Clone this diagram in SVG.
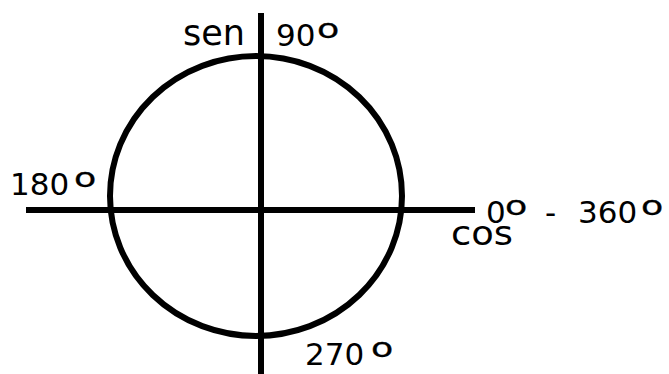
<svg xmlns="http://www.w3.org/2000/svg" width="669" height="374" viewBox="0 0 669 374">
<style>
.ln{stroke:#000;stroke-width:6;fill:none}
.t{font-family:"DejaVu Sans",Verdana,sans-serif;font-size:31px;fill:#000}
.deg{font-family:"DejaVu Sans",Verdana,sans-serif;font-size:26px;fill:#000;stroke:#000;stroke-width:0.3}
</style>
<rect width="669" height="374" fill="#fff"/>
<g id="circle"><ellipse class="ln" cx="256" cy="196" rx="146" ry="140" stroke-width="5"/></g>
<g id="axes">
<line class="ln" x1="26" y1="210" x2="475" y2="210"/>
<line class="ln" x1="261" y1="13" x2="261" y2="374"/>
</g>
<g id="label-sen"><text class="t" x="183" y="45" style="font-size:36px" textLength="62" lengthAdjust="spacingAndGlyphs">sen</text></g>
<g id="label-90">
<text class="t" x="276" y="46">90</text>
<text class="deg" transform="translate(317,38) scale(1.4,1.05)">o</text>
</g>
<g id="label-180">
<text class="t" x="10" y="195">180</text>
<text class="deg" transform="translate(74,187) scale(1.4,1.05)">o</text>
</g>
<g id="label-0-360">
<text class="t" x="486" y="223">0</text>
<text class="deg" transform="translate(505,215) scale(1.4,1.05)">o</text>
<text class="t" x="545" y="223">-</text>
<text class="t" x="578" y="223">360</text>
<text class="deg" transform="translate(641,215) scale(1.4,1.05)">o</text>
</g>
<g id="label-cos"><text class="t" x="451" y="245" style="font-size:33px" textLength="62" lengthAdjust="spacingAndGlyphs">cos</text></g>
<g id="label-270">
<text class="t" x="305" y="365">270</text>
<text class="deg" transform="translate(371,357) scale(1.4,1.05)">o</text>
</g>
</svg>
